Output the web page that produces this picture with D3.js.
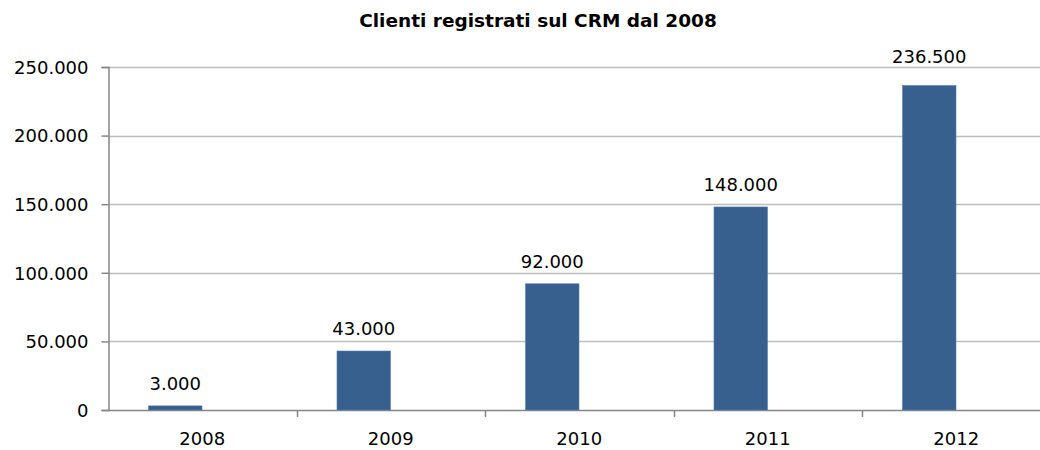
<!DOCTYPE html>
<html>
<head>
<meta charset="utf-8" />
<script src="https://d3js.org/d3.v7.min.js"></script>
<style>
  body { margin: 0; background: #fff; }
  svg text { font-family: "DejaVu Sans", Verdana, sans-serif; fill: #000; }
</style>
</head>
<body>
<div id="chart"></div>
<script>
  // data
  var years = ["2008", "2009", "2010", "2011", "2012"];
  var clienti = [3000, 43000, 92000, 148000, 236500];
  var yTicks = [0, 50000, 100000, 150000, 200000, 250000];

  var W = 1040, H = 450;
  var plotLeft = 108, plotTop = 67, plotBottom = 410;
  var band = 188.5;

  var svg = d3.select("#chart").append("svg")
    .attr("width", W).attr("height", H);

  // italian thousand separator
  var fmt = function (v) {
    return d3.format(",")(v).replace(/,/g, ".");
  };

  var x = d3.scaleBand()
    .domain(years)
    .range([plotLeft, plotLeft + band * years.length]);

  var y = d3.scaleLinear()
    .domain([0, 250000])
    .range([plotBottom, plotTop]);

  svg.append("text")
    .attr("x", 538).attr("y", 27)
    .attr("text-anchor", "middle")
    .style("font-size", "18.5px")
    .style("font-weight", "bold")
    .text("Clienti registrati sul CRM dal 2008");

  // gridlines
  svg.append("g").selectAll("line")
    .data(yTicks.filter(function (d) { return d > 0; }))
    .join("line")
    .attr("x1", plotLeft).attr("x2", W)
    .attr("y1", function (d) { return Math.round(y(d)) + 0.5; })
    .attr("y2", function (d) { return Math.round(y(d)) + 0.5; })
    .attr("stroke", "#bdbdbd").attr("stroke-width", 1.5);

  // y axis
  var yAxis = svg.append("g")
    .attr("transform", "translate(" + (plotLeft + 0.5) + ",0)")
    .call(d3.axisLeft(y).tickValues(yTicks).tickFormat(fmt).tickSize(7).tickPadding(13));
  yAxis.select(".domain").attr("stroke", "#868686").attr("stroke-width", 1.5);
  yAxis.selectAll(".tick line").attr("stroke", "#868686").attr("stroke-width", 1.5);
  yAxis.selectAll("text").style("font-size", "18px").attr("dy", "0.35em");

  // x axis line with category separators
  svg.append("line")
    .attr("x1", plotLeft).attr("x2", W)
    .attr("y1", plotBottom + 0.5).attr("y2", plotBottom + 0.5)
    .attr("stroke", "#868686").attr("stroke-width", 1.5);

  svg.append("g").selectAll("line")
    .data(years.slice(1))
    .join("line")
    .attr("x1", function (d) { return Math.round(x(d)) + 0.5; })
    .attr("x2", function (d) { return Math.round(x(d)) + 0.5; })
    .attr("y1", plotBottom).attr("y2", plotBottom + 7)
    .attr("stroke", "#868686").attr("stroke-width", 1.5);

  svg.append("g").selectAll("text")
    .data(years)
    .join("text")
    .attr("x", function (d) { return x(d) + band / 2; })
    .attr("y", 445)
    .attr("text-anchor", "middle")
    .style("font-size", "18px")
    .text(function (d) { return d; });

  // bars: first slot of a two-slot cluster, like the spreadsheet original
  var gap = 40.5, barW = 53.5;
  var rows = years.map(function (d, i) { return { year: d, value: clienti[i] }; });

  svg.append("g").selectAll("rect")
    .data(rows)
    .join("rect")
    .attr("x", function (d) { return x(d.year) + gap; })
    .attr("width", barW)
    .attr("y", function (d) { return y(d.value); })
    .attr("height", function (d) { return plotBottom - y(d.value); })
    .attr("fill", "#37608f")
    .attr("stroke", "#5a7fae")
    .attr("stroke-width", 0.6);

  // value labels; one that would sit on the top gridline goes above it
  svg.append("g").selectAll("text")
    .data(rows)
    .join("text")
    .attr("x", function (d) { return x(d.year) + gap + barW / 2; })
    .attr("y", function (d) {
      var b = y(d.value) - 16;
      return b < plotTop + 16 ? plotTop - 4 : b;
    })
    .attr("text-anchor", "middle")
    .style("font-size", "18px")
    .text(function (d) { return fmt(d.value); });
</script>
</body>
</html>
